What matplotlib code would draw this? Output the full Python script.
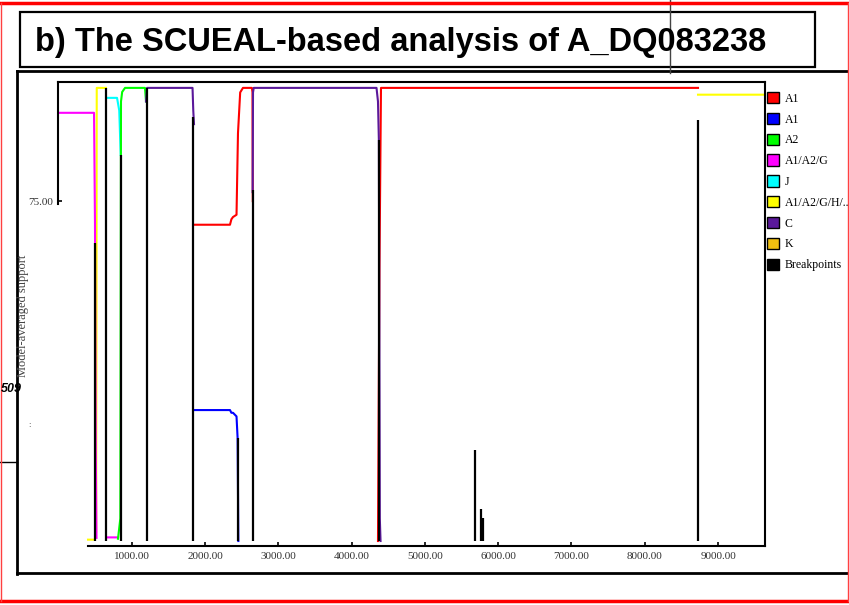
import matplotlib
matplotlib.use("Agg")
import matplotlib.pyplot as plt
from matplotlib.patches import Patch, Rectangle
from matplotlib.lines import Line2D
import numpy as np

nan = np.nan

# support curves (position in alignment, model-averaged support %)
a1_red_x = [1850, 2341, 2360, 2382, 2430, 2450, 2480, 2518, 2640, 2648, 2652, nan, 4360, 4380, 4401, 8726]
a1_red_y = [69.8, 69.8, 71.0, 71.5, 72.0, 90.0, 99.0, 100, 100, 99, 75, nan, 0, 60, 100, 100]
a1_blue_x = [1850, 2341, 2360, 2382, 2430, 2445, 2455]
a1_blue_y = [28.9, 28.9, 28.3, 28.3, 27.5, 22.7, 0]
a2_x = [813, 845, 854, 870, 909, 1181, 1195]
a2_y = [0.5, 5, 97, 99.1, 100, 100, 97]
a1a2g_x = [0, 486, 499, 510, 520, nan, 663, 813]
a1a2g_y = [94.5, 94.5, 70, 20, 0.7, nan, 0.8, 0.8]
j_x = [663, 800, 830, 850]
j_y = [97.8, 97.8, 95, 85.2]
a1a2gh_x = [404, 499, 516, 523, 649, nan, 8726, 9640]
a1a2gh_y = [0.3, 0.3, 2, 100, 100, nan, 98.5, 98.5]
c_x = [1195, 1209, 1830, 1840, 1850, nan, 2650, 2655, 2665, 4340, 4360, 4372, 4385, 4395]
c_y = [97, 100, 100, 95, 92, nan, 77, 99, 100, 100, 97, 88.5, 5, 0]

# breakpoint density spikes
bp_x = [499, 649, 850, 1205, 1836, 2450, 2655, 4372, 5690, 5760, 5790, 8726]
bp_h = [65.8, 100, 85.2, 100, 93.6, 22.7, 77.5, 88.5, 20.1, 7.0, 5.1, 93.0]

legend_labels = ["A1", "A1", "A2", "A1/A2/G", "J", "A1/A2/G/H/..", "C", "K", "Breakpoints"]
legend_colors = ["#ff0000", "#0000ff", "#00ff00", "#ff00ff", "#00ffff", "#ffff00", "#5a189a", "#f0c010", "#000000"]

xticks = [1000, 2000, 3000, 4000, 5000, 6000, 7000, 8000, 9000]

W, H = 849, 605
fig = plt.figure(figsize=(W / 100, H / 100), dpi=100)

ax = fig.add_axes([58.4 / W, (H - 546) / H, (765 - 58.4) / W, (546 - 82) / H])
lw = 1.5
ax.plot(a1a2gh_x, a1a2gh_y, color=legend_colors[5], lw=lw)
ax.plot(a1a2g_x, a1a2g_y, color=legend_colors[3], lw=lw)
ax.plot(j_x, j_y, color=legend_colors[4], lw=lw)
ax.plot(a2_x, a2_y, color=legend_colors[2], lw=lw)
ax.plot(a1_red_x, a1_red_y, color=legend_colors[0], lw=lw)
ax.plot(a1_blue_x, a1_blue_y, color=legend_colors[1], lw=lw)
ax.plot(c_x, c_y, color=legend_colors[6], lw=lw)
ax.vlines(bp_x, 0, bp_h, color="black", lw=1.6)

ax.set_xlim(0, 9640)
ax.set_ylim(-1.1, 101.3)
ax.spines["left"].set_bounds(74.3, 101.3)
ax.spines["bottom"].set_bounds(404, 9640)
for s in ax.spines.values():
    s.set_linewidth(1.5)

ax.set_xticks(xticks)
ax.set_xticklabels(["%.2f" % v for v in xticks], family="Liberation Serif", fontsize=8, color="#333333")
ax.set_yticks([75])
ax.set_yticklabels(["75.00"], family="Liberation Serif", fontsize=8, color="#333333")
ax.tick_params(direction="in", length=3, width=1.2, pad=4)

# legend
handles = [Patch(facecolor=c, edgecolor="black", linewidth=1) for c in legend_colors]
fig.legend(handles, legend_labels, loc="upper left", bbox_to_anchor=(767 / W, (H - 92) / H),
           frameon=False, prop={"family": "Liberation Serif", "size": 8.5},
           handlelength=1.05, handleheight=1.1, handletextpad=0.45,
           labelspacing=0.69, borderpad=0, borderaxespad=0)

# y label and stray text
fig.text(23 / W, (H - 316) / H, "Model-averaged support", rotation=90, ha="center", va="center",
         family="Liberation Serif", fontsize=9, color="#444444")
fig.text(0.5 / W, (H - 389) / H, "509", ha="left", va="center", fontsize=9,
         fontweight="bold", style="italic", family="Liberation Sans")
fig.text(29 / W, (H - 425) / H, ":", ha="center", va="center", fontsize=5, color="#333333")

# title box
fig.patches.append(Rectangle((20 / W, (H - 67) / H), 795 / W, 55 / H, transform=fig.transFigure,
                             fill=False, edgecolor="black", lw=1.6))
fig.text(35 / W, (H - 42) / H, "b) The SCUEAL-based analysis of A_DQ083238", ha="left", va="center",
         fontsize=23.5, fontweight="bold", family=["Liberation Sans"])

# outer frames
def fline(xs, ys, **kw):
    fig.add_artist(Line2D([x / W for x in xs], [(H - y) / H for y in ys], transform=fig.transFigure, **kw))

fline([17, 849], [71, 71], color="black", lw=2)
fline([17, 17], [71, 574], color="black", lw=2)
fline([17, 849], [573, 573], color="black", lw=2)
fline([0, 17], [462, 462], color="black", lw=1)
fline([670, 670], [0, 73], color="#444444", lw=1)
fline([0, 849], [3, 3], color="#ff0000", lw=2.5)
fline([0, 849], [601, 601], color="#ff0000", lw=2.5)
fline([1, 1], [3, 601], color="#ff4040", lw=1)
fline([847.5, 847.5], [3, 601], color="#ff4040", lw=1)

fig.savefig("out.png", dpi=100)
